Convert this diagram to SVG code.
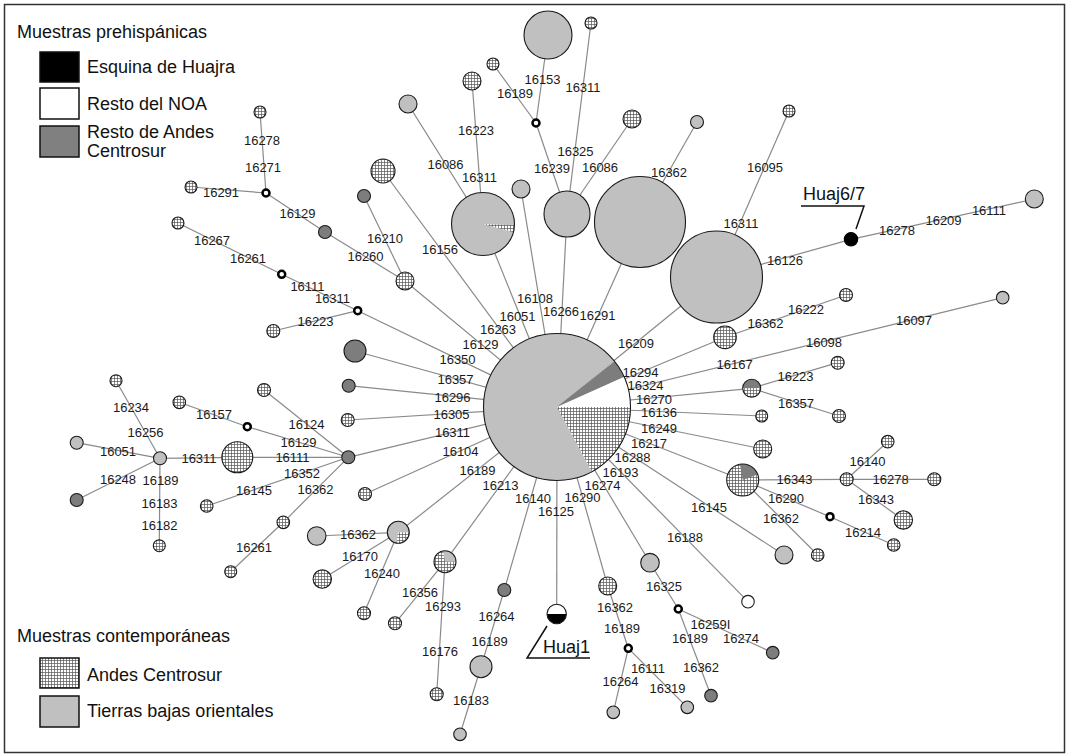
<svg xmlns="http://www.w3.org/2000/svg" width="1066" height="754" viewBox="0 0 1066 754">
<defs>
<pattern id="hatch" width="3" height="3" patternUnits="userSpaceOnUse">
<rect width="3" height="3" fill="#fff"/>
<path d="M0,0.5H3M0.5,0V3" stroke="#555" stroke-width="0.7"/>
</pattern>
<style>
.e{stroke:#8a8a8a;stroke-width:1.2;fill:none}
.g{fill:#c0c0c0;stroke:#1a1a1a;stroke-width:1.1}
.d{fill:#7d7d7d;stroke:#1a1a1a;stroke-width:1.1}
.h{fill:url(#hatch);stroke:#1a1a1a;stroke-width:1.1}
.w{fill:#fff;stroke:#1a1a1a;stroke-width:1.1}
.k{fill:#000;stroke:#000;stroke-width:1.1}
.r{fill:#fff;stroke:#000;stroke-width:2.5}
.o{fill:none;stroke:#1a1a1a;stroke-width:1.1}
.sg{fill:#c0c0c0;stroke:none}
.sd{fill:#7d7d7d;stroke:none}
.sh{fill:url(#hatch);stroke:none}
.sw{fill:#fff;stroke:none}
.sk{fill:#000;stroke:none}
.lb{font-family:"Liberation Sans",Arial,sans-serif;font-size:13px;fill:#1a1a1a;text-anchor:middle}
.lg{font-family:"Liberation Sans",Arial,sans-serif;font-size:18px;fill:#111}
.ln{stroke:#111;stroke-width:1.5;fill:none}
</style>
</defs>
<rect x="4.5" y="4.5" width="1060" height="748" fill="#fff" stroke="#333" stroke-width="1.5"/>

<g id="legend">
<text class="lg" x="17" y="38">Muestras prehispánicas</text>
<rect x="40" y="52" width="39" height="30" fill="#000" stroke="#111" stroke-width="1.5"/>
<text class="lg" x="87" y="73">Esquina de Huajra</text>
<rect x="40" y="88" width="39" height="31" fill="#fff" stroke="#111" stroke-width="1.5"/>
<text class="lg" x="87" y="110">Resto del NOA</text>
<rect x="40" y="126" width="39" height="31" fill="#808080" stroke="#111" stroke-width="1.5"/>
<text class="lg" x="87" y="138">Resto de Andes</text>
<text class="lg" x="87" y="157">Centrosur</text>
<text class="lg" x="17" y="642">Muestras contemporáneas</text>
<rect x="40" y="658" width="39" height="30" fill="url(#hatch)" stroke="#111" stroke-width="1.5"/>
<text class="lg" x="87" y="681">Andes Centrosur</text>
<rect x="40" y="696" width="39" height="31" fill="#c0c0c0" stroke="#111" stroke-width="1.5"/>
<text class="lg" x="87" y="717">Tierras bajas orientales</text>
</g>

<g id="connectors">
<line class="e" x1="548" y1="35" x2="536" y2="123"/>
<line class="e" x1="493" y1="64" x2="536" y2="123"/>
<line class="e" x1="536" y1="123" x2="567" y2="214"/>
<line class="e" x1="591" y1="23" x2="567" y2="214"/>
<line class="e" x1="632" y1="119" x2="567" y2="214"/>
<line class="e" x1="697" y1="122" x2="640" y2="222"/>
<line class="e" x1="789" y1="111" x2="716.5" y2="277"/>
<line class="e" x1="716.5" y1="277" x2="851" y2="239.3"/>
<line class="e" x1="851" y1="239.3" x2="1034.3" y2="199"/>
<line class="e" x1="472" y1="81" x2="483" y2="224"/>
<line class="e" x1="408" y1="104" x2="483" y2="224"/>
<line class="e" x1="483" y1="224" x2="557" y2="407"/>
<line class="e" x1="521" y1="189" x2="557" y2="407"/>
<line class="e" x1="567" y1="214" x2="557" y2="407"/>
<line class="e" x1="640" y1="222" x2="557" y2="407"/>
<line class="e" x1="716.5" y1="277" x2="557" y2="407"/>
<line class="e" x1="383" y1="171" x2="557" y2="407"/>
<line class="e" x1="364" y1="196" x2="405" y2="281"/>
<line class="e" x1="325" y1="232" x2="405" y2="281"/>
<line class="e" x1="266" y1="193" x2="325" y2="232"/>
<line class="e" x1="260" y1="112" x2="266" y2="193"/>
<line class="e" x1="191" y1="187" x2="266" y2="193"/>
<line class="e" x1="405" y1="281" x2="557" y2="407"/>
<line class="e" x1="178" y1="223" x2="281.7" y2="274.3"/>
<line class="e" x1="281.7" y1="274.3" x2="357.7" y2="310.7"/>
<line class="e" x1="273.3" y1="331" x2="357.7" y2="310.7"/>
<line class="e" x1="357.7" y1="310.7" x2="557" y2="407"/>
<line class="e" x1="355" y1="351" x2="557" y2="407"/>
<line class="e" x1="348.7" y1="385.7" x2="557" y2="407"/>
<line class="e" x1="347.7" y1="420" x2="557" y2="407"/>
<line class="e" x1="348.3" y1="457.3" x2="557" y2="407"/>
<line class="e" x1="365" y1="494" x2="557" y2="407"/>
<line class="e" x1="264" y1="390" x2="348.3" y2="457.3"/>
<line class="e" x1="247.3" y1="426.7" x2="348.3" y2="457.3"/>
<line class="e" x1="179.3" y1="402.3" x2="247.3" y2="426.7"/>
<line class="e" x1="237.3" y1="457.3" x2="348.3" y2="457.3"/>
<line class="e" x1="160" y1="458.3" x2="237.3" y2="457.3"/>
<line class="e" x1="206.7" y1="506" x2="348.3" y2="457.3"/>
<line class="e" x1="348.3" y1="457.3" x2="283.3" y2="522.3"/>
<line class="e" x1="283.3" y1="522.3" x2="230.7" y2="571.7"/>
<line class="e" x1="116" y1="380.7" x2="160" y2="458.3"/>
<line class="e" x1="76.7" y1="442.7" x2="160" y2="458.3"/>
<line class="e" x1="76.7" y1="500" x2="160" y2="458.3"/>
<line class="e" x1="160" y1="458.3" x2="159.3" y2="545.7"/>
<line class="e" x1="398.3" y1="532.3" x2="557" y2="407"/>
<line class="e" x1="398.3" y1="532.3" x2="316.7" y2="536"/>
<line class="e" x1="398.3" y1="532.3" x2="322.3" y2="579"/>
<line class="e" x1="398.3" y1="532.3" x2="364" y2="613.3"/>
<line class="e" x1="445" y1="561.7" x2="557" y2="407"/>
<line class="e" x1="445" y1="561.7" x2="395" y2="623.3"/>
<line class="e" x1="445" y1="561.7" x2="436.7" y2="694.3"/>
<line class="e" x1="504.3" y1="590" x2="557" y2="407"/>
<line class="e" x1="504.3" y1="590" x2="481" y2="666.7"/>
<line class="e" x1="481" y1="666.7" x2="460" y2="734.3"/>
<line class="e" x1="556.7" y1="614" x2="557" y2="407"/>
<line class="e" x1="607.7" y1="586" x2="557" y2="407"/>
<line class="e" x1="607.7" y1="586" x2="628.3" y2="648.3"/>
<line class="e" x1="628.3" y1="648.3" x2="613.3" y2="712.3"/>
<line class="e" x1="628.3" y1="648.3" x2="687.3" y2="707.3"/>
<line class="e" x1="650" y1="562.7" x2="557" y2="407"/>
<line class="e" x1="650" y1="562.7" x2="678.3" y2="609"/>
<line class="e" x1="678.3" y1="609" x2="711" y2="695.7"/>
<line class="e" x1="678.3" y1="609" x2="772.7" y2="652.7"/>
<line class="e" x1="748" y1="601.7" x2="557" y2="407"/>
<line class="e" x1="784" y1="555" x2="557" y2="407"/>
<line class="e" x1="742.7" y1="480" x2="557" y2="407"/>
<line class="e" x1="742.7" y1="480" x2="846.7" y2="479.3"/>
<line class="e" x1="846.7" y1="479.3" x2="887.7" y2="441.7"/>
<line class="e" x1="846.7" y1="479.3" x2="934.3" y2="479.3"/>
<line class="e" x1="846.7" y1="479.3" x2="903.3" y2="520"/>
<line class="e" x1="742.7" y1="480" x2="830" y2="516.7"/>
<line class="e" x1="830" y1="516.7" x2="893.7" y2="545"/>
<line class="e" x1="742.7" y1="480" x2="817.7" y2="555"/>
<line class="e" x1="762.7" y1="449" x2="557" y2="407"/>
<line class="e" x1="761.7" y1="416" x2="557" y2="407"/>
<line class="e" x1="751.7" y1="388.3" x2="557" y2="407"/>
<line class="e" x1="751.7" y1="388.3" x2="837.7" y2="362.7"/>
<line class="e" x1="751.7" y1="388.3" x2="839" y2="416"/>
<line class="e" x1="725" y1="337.3" x2="557" y2="407"/>
<line class="e" x1="725" y1="337.3" x2="846" y2="295"/>
<line class="e" x1="1002.7" y1="297.7" x2="557" y2="407"/>
</g>

<g id="nodes">
<g id="n-center">
<path class="sg" d="M557,407 L591.96,471.65 A73.5,73.5 0 1 1 614.5,361.25 Z"/>
<path class="sd" d="M557,407 L614.5,361.25 A73.5,73.5 0 0 1 624.14,377.1 Z"/>
<path class="sw" d="M557,407 L624.14,377.1 A73.5,73.5 0 0 1 630.5,407 Z"/>
<path class="sh" d="M557,407 L630.5,407 A73.5,73.5 0 0 1 591.96,471.65 Z"/>
<circle class="o" cx="557" cy="407" r="73.5"/>
</g>
<g id="n-pie">
<circle class="sg" cx="483" cy="224" r="31.5"/>
<path class="sh" d="M483,224 L514.48,225.1 A31.5,31.5 0 0 1 513.43,232.15 Z"/>
<circle class="o" cx="483" cy="224" r="31.5"/>
</g>
<g id="n-g3"><circle class="g" cx="548" cy="35" r="24"/></g>
<g id="n-t1"><circle class="h" cx="591" cy="23" r="6"/></g>
<g id="n-t2"><circle class="h" cx="493" cy="64" r="6"/></g>
<g id="n-r2"><circle class="r" cx="536" cy="123" r="3.5"/></g>
<g id="n-t3"><circle class="h" cx="472" cy="81" r="9"/></g>
<g id="n-g1"><circle class="g" cx="408" cy="104" r="9"/></g>
<g id="n-t4"><circle class="h" cx="632" cy="119" r="9"/></g>
<g id="n-t5"><circle class="g" cx="697" cy="122" r="6.5"/></g>
<g id="n-t6"><circle class="h" cx="789" cy="111" r="6"/></g>
<g id="n-g4"><circle class="g" cx="567" cy="214" r="23"/></g>
<g id="n-g5"><circle class="g" cx="640" cy="222" r="45.5"/></g>
<g id="n-g6"><circle class="g" cx="716.5" cy="277" r="46"/></g>
<g id="n-g2"><circle class="g" cx="521" cy="189" r="9"/></g>
<g id="n-hbig"><circle class="h" cx="383" cy="171" r="12"/></g>
<g id="n-d2"><circle class="d" cx="364" cy="196" r="6.5"/></g>
<g id="n-d1"><circle class="d" cx="325" cy="232" r="6.5"/></g>
<g id="n-h3"><circle class="h" cx="405" cy="281" r="9"/></g>
<g id="n-a1"><circle class="h" cx="260" cy="112" r="6"/></g>
<g id="n-a2"><circle class="h" cx="191" cy="187" r="6"/></g>
<g id="n-r1"><circle class="r" cx="266" cy="193" r="3.5"/></g>
<g id="n-a3"><circle class="h" cx="178" cy="223" r="6"/></g>
<g id="n-r3"><circle class="r" cx="281.7" cy="274.3" r="3.5"/></g>
<g id="n-r4"><circle class="r" cx="357.7" cy="310.7" r="3.5"/></g>
<g id="n-a4"><circle class="h" cx="273.3" cy="331" r="6.5"/></g>
<g id="n-dbig"><circle class="d" cx="355" cy="351" r="11"/></g>
<g id="n-d3"><circle class="d" cx="348.7" cy="385.7" r="6.5"/></g>
<g id="n-l1"><circle class="h" cx="347.7" cy="420" r="6.5"/></g>
<g id="n-d5"><circle class="d" cx="348.3" cy="457.3" r="6.5"/></g>
<g id="n-l2"><circle class="h" cx="365" cy="494" r="6.5"/></g>
<g id="n-l3"><circle class="h" cx="264" cy="390" r="6.5"/></g>
<g id="n-r5"><circle class="r" cx="247.3" cy="426.7" r="3.5"/></g>
<g id="n-l4"><circle class="h" cx="179.3" cy="402.3" r="6.3"/></g>
<g id="n-hbig2"><circle class="h" cx="237.3" cy="457.3" r="15.5"/></g>
<g id="n-g8"><circle class="g" cx="160" cy="458.3" r="6.5"/></g>
<g id="n-l5"><circle class="h" cx="116" cy="380.7" r="6"/></g>
<g id="n-l6"><circle class="g" cx="76.7" cy="442.7" r="6.5"/></g>
<g id="n-l7"><circle class="d" cx="76.7" cy="500" r="6.5"/></g>
<g id="n-l8"><circle class="h" cx="159.3" cy="545.7" r="6"/></g>
<g id="n-l9"><circle class="h" cx="206.7" cy="506" r="6.3"/></g>
<g id="n-l10"><circle class="h" cx="283.3" cy="522.3" r="6.3"/></g>
<g id="n-l11"><circle class="h" cx="230.7" cy="571.7" r="6"/></g>
<g id="n-m4">
<circle class="sg" cx="398.3" cy="532.3" r="11"/>
<path class="sh" d="M398.3,532.3 L409.3,532.3 A11,11 0 0 1 396.39,543.13 Z"/>
<circle class="o" cx="398.3" cy="532.3" r="11"/>
</g>
<g id="n-b1"><circle class="g" cx="316.7" cy="536" r="9.3"/></g>
<g id="n-b2"><circle class="h" cx="322.3" cy="579" r="9.2"/></g>
<g id="n-b3"><circle class="h" cx="364" cy="613.3" r="6.5"/></g>
<g id="n-m3">
<circle class="sh" cx="445" cy="561.7" r="11"/>
<path class="sg" d="M445,561.7 L443.09,550.87 A11,11 0 0 1 456,561.7 Z"/>
<circle class="o" cx="445" cy="561.7" r="11"/>
</g>
<g id="n-b4"><circle class="h" cx="395" cy="623.3" r="6.5"/></g>
<g id="n-b5"><circle class="h" cx="436.7" cy="694.3" r="6.5"/></g>
<g id="n-b6"><circle class="d" cx="504.3" cy="590" r="6.5"/></g>
<g id="n-b7"><circle class="g" cx="481" cy="666.7" r="11"/></g>
<g id="n-b8"><circle class="g" cx="460" cy="734.3" r="6.3"/></g>
<g id="n-huaj1">
<path class="sw" d="M547,614 A9.7,9.7 0 0 1 566.4,614 Z"/>
<path class="sk" d="M566.4,614 A9.7,9.7 0 0 1 547,614 Z"/>
<circle class="o" cx="556.7" cy="614" r="9.7"/>
</g>
<g id="n-b9"><circle class="h" cx="607.7" cy="586" r="9"/></g>
<g id="n-r6"><circle class="r" cx="628.3" cy="648.3" r="3.5"/></g>
<g id="n-b10"><circle class="g" cx="613.3" cy="712.3" r="6.3"/></g>
<g id="n-b11"><circle class="g" cx="687.3" cy="707.3" r="6.3"/></g>
<g id="n-b12"><circle class="g" cx="650" cy="562.7" r="9.3"/></g>
<g id="n-r7"><circle class="r" cx="678.3" cy="609" r="3.5"/></g>
<g id="n-b13"><circle class="d" cx="711" cy="695.7" r="6.3"/></g>
<g id="n-b14"><circle class="d" cx="772.7" cy="652.7" r="6.3"/></g>
<g id="n-b15"><circle class="w" cx="748" cy="601.7" r="6.3"/></g>
<g id="n-b16"><circle class="g" cx="784" cy="555" r="9"/></g>
<g id="n-m2">
<circle class="sh" cx="742.7" cy="480" r="16"/>
<path class="sd" d="M742.7,480 L739.92,464.24 A16,16 0 0 1 757.74,474.53 Z"/>
<circle class="o" cx="742.7" cy="480" r="16"/>
</g>
<g id="n-h9"><circle class="h" cx="846.7" cy="479.3" r="6.5"/></g>
<g id="n-q1"><circle class="h" cx="887.7" cy="441.7" r="6.3"/></g>
<g id="n-q2"><circle class="h" cx="934.3" cy="479.3" r="6.5"/></g>
<g id="n-q3"><circle class="h" cx="903.3" cy="520" r="9.2"/></g>
<g id="n-r8"><circle class="r" cx="830" cy="516.7" r="3.5"/></g>
<g id="n-q4"><circle class="h" cx="893.7" cy="545" r="6.3"/></g>
<g id="n-q5"><circle class="h" cx="817.7" cy="555" r="6.3"/></g>
<g id="n-q6"><circle class="h" cx="762.7" cy="449" r="9"/></g>
<g id="n-q7"><circle class="h" cx="761.7" cy="416" r="6"/></g>
<g id="n-m1">
<path class="sd" d="M742.7,388.3 A9,9 0 0 1 760.7,388.3 Z"/>
<path class="sh" d="M760.7,388.3 A9,9 0 0 1 742.7,388.3 Z"/>
<circle class="o" cx="751.7" cy="388.3" r="9"/>
</g>
<g id="n-q8"><circle class="h" cx="837.7" cy="362.7" r="6.5"/></g>
<g id="n-q9"><circle class="h" cx="839" cy="416" r="6.5"/></g>
<g id="n-h5"><circle class="h" cx="725" cy="337.3" r="11.3"/></g>
<g id="n-q10"><circle class="h" cx="846" cy="295" r="6.5"/></g>
<g id="n-g7"><circle class="g" cx="1002.7" cy="297.7" r="6.3"/></g>
<g id="n-huaj67"><circle class="k" cx="851" cy="239.3" r="6.7"/></g>
<g id="n-q11"><circle class="g" cx="1034.3" cy="199" r="9"/></g>
</g>

<g id="edge-labels" class="lb">
<text x="542.5" y="84">16153</text>
<text x="515" y="98">16189</text>
<text x="552" y="173">16239</text>
<text x="583" y="92">16311</text>
<text x="575.5" y="156">16325</text>
<text x="600" y="172">16086</text>
<text x="669" y="177">16362</text>
<text x="765" y="172">16095</text>
<text x="741" y="228">16311</text>
<text x="785" y="265">16126</text>
<text x="897" y="235">16278</text>
<text x="943.5" y="225">16209</text>
<text x="989" y="215">16111</text>
<text x="476" y="135">16223</text>
<text x="479.5" y="182">16311</text>
<text x="445.5" y="169">16086</text>
<text x="517.5" y="321">16051</text>
<text x="535" y="303">16108</text>
<text x="561" y="316">16266</text>
<text x="597.5" y="320">16291</text>
<text x="636" y="348">16209</text>
<text x="440" y="254">16156</text>
<text x="498" y="334">16263</text>
<text x="385" y="243">16210</text>
<text x="365.5" y="261">16260</text>
<text x="297.5" y="218">16129</text>
<text x="262" y="145">16278</text>
<text x="263" y="172">16271</text>
<text x="221" y="197">16291</text>
<text x="480.5" y="349">16129</text>
<text x="212" y="245">16267</text>
<text x="248" y="263">16261</text>
<text x="307.5" y="291">16111</text>
<text x="332.5" y="303">16311</text>
<text x="315.5" y="326">16223</text>
<text x="457.5" y="364">16350</text>
<text x="455.5" y="384">16357</text>
<text x="452.5" y="402">16296</text>
<text x="451.5" y="419">16305</text>
<text x="452.5" y="437">16311</text>
<text x="460.5" y="456">16104</text>
<text x="306.5" y="429">16124</text>
<text x="298.5" y="447">16129</text>
<text x="214" y="419">16157</text>
<text x="292.5" y="462">16111</text>
<text x="199" y="463">16311</text>
<text x="254" y="495">16145</text>
<text x="302" y="478">16352</text>
<text x="315.5" y="494">16362</text>
<text x="254" y="552">16261</text>
<text x="131" y="412">16234</text>
<text x="145.5" y="437">16256</text>
<text x="118" y="456">16051</text>
<text x="118" y="484">16248</text>
<text x="160.5" y="485">16189</text>
<text x="159.5" y="508">16183</text>
<text x="159.5" y="530">16182</text>
<text x="477.5" y="475">16189</text>
<text x="358" y="539">16362</text>
<text x="360" y="561">16170</text>
<text x="382" y="578">16240</text>
<text x="500.5" y="490">16213</text>
<text x="420" y="597">16356</text>
<text x="443" y="611">16293</text>
<text x="440" y="656">16176</text>
<text x="533" y="503">16140</text>
<text x="496.5" y="621">16264</text>
<text x="489.7" y="646">16189</text>
<text x="471" y="705">16183</text>
<text x="556" y="516">16125</text>
<text x="582.5" y="502">16290</text>
<text x="615" y="612">16362</text>
<text x="622" y="633">16189</text>
<text x="620.5" y="686">16264</text>
<text x="648" y="673">16111</text>
<text x="667.5" y="693">16319</text>
<text x="602.5" y="490">16274</text>
<text x="664" y="591">16325</text>
<text x="690" y="643">16189</text>
<text x="701" y="672">16362</text>
<text x="710.5" y="629">16259I</text>
<text x="741" y="643">16274</text>
<text x="620.5" y="477">16193</text>
<text x="685" y="542">16188</text>
<text x="632.5" y="462">16288</text>
<text x="709" y="512">16145</text>
<text x="649" y="448">16217</text>
<text x="794.5" y="484">16343</text>
<text x="867.5" y="466">16140</text>
<text x="890.7" y="484">16278</text>
<text x="876" y="504">16343</text>
<text x="786" y="503">16290</text>
<text x="863" y="537">16214</text>
<text x="781" y="523">16362</text>
<text x="659" y="433">16249</text>
<text x="659" y="417">16136</text>
<text x="654" y="404">16270</text>
<text x="795.5" y="381">16223</text>
<text x="796" y="408">16357</text>
<text x="640.5" y="377">16294</text>
<text x="645.5" y="390">16324</text>
<text x="765.5" y="328">16362</text>
<text x="806" y="314">16222</text>
<text x="734.7" y="369">16167</text>
<text x="824" y="347">16098</text>
<text x="914" y="325">16097</text>
</g>

<g id="callouts">
<text class="lg" x="803" y="200">Huaj6/7</text>
<polyline class="ln" points="801,206 864,206 856,229"/>
<text class="lg" x="543" y="653">Huaj1</text>
<polyline class="ln" points="547,626 527,658 590,658"/>
</g>
</svg>
